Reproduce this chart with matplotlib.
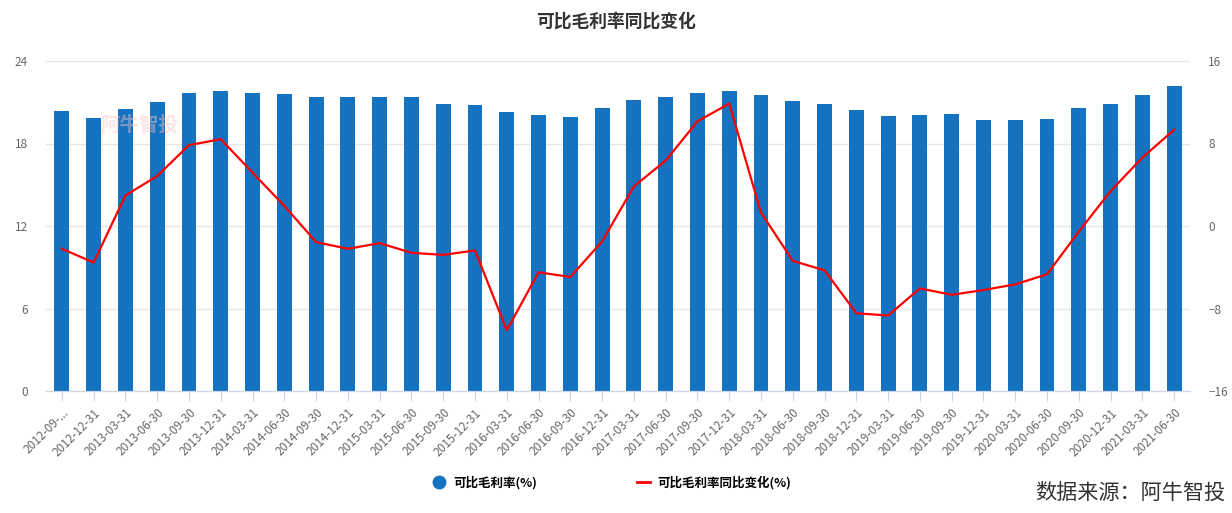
import matplotlib
matplotlib.use("Agg")
import matplotlib.pyplot as plt
from matplotlib.lines import Line2D

plt.rcParams['font.family'] = ['Noto Sans CJK SC', 'DejaVu Sans']

dates = ["2012-09-...", "2012-12-31", "2013-03-31", "2013-06-30", "2013-09-30", "2013-12-31",
         "2014-03-31", "2014-06-30", "2014-09-30", "2014-12-31", "2015-03-31", "2015-06-30",
         "2015-09-30", "2015-12-31", "2016-03-31", "2016-06-30", "2016-09-30", "2016-12-31",
         "2017-03-31", "2017-06-30", "2017-09-30", "2017-12-31", "2018-03-31", "2018-06-30",
         "2018-09-30", "2018-12-31", "2019-03-31", "2019-06-30", "2019-09-30", "2019-12-31",
         "2020-03-31", "2020-06-30", "2020-09-30", "2020-12-31", "2021-03-31", "2021-06-30"]

# 可比毛利率(%)
margin = [20.36, 19.85, 20.5, 21.0, 21.67, 21.82, 21.67, 21.6, 21.38, 21.38, 21.38, 21.38,
          20.87, 20.8, 20.29, 20.07, 19.93, 20.58, 21.16, 21.38, 21.67, 21.82, 21.53, 21.09,
          20.87, 20.44, 20.0, 20.07, 20.15, 19.71, 19.71, 19.78, 20.58, 20.87, 21.53, 22.18]

# 可比毛利率同比变化(%)
change = [-2.21, -3.54, 2.96, 4.85, 7.84, 8.42, 5.17, 1.95, -1.56, -2.21, -1.66, -2.6,
          -2.8, -2.37, -10.11, -4.49, -4.94, -1.5, 3.84, 6.34, 10.15, 11.87, 1.3, -3.38,
          -4.3, -8.46, -8.68, -6.05, -6.67, -6.21, -5.66, -4.68, -0.55, 3.38, 6.63, 9.33]

bar_color = "#1572c0"
line_color = "#ff0000"
grid_color = "#e6e6e6"
axis_color = "#ccd6eb"
text_color = "#666666"

fig = plt.figure(figsize=(12.32, 5.13), dpi=100)
ax = fig.add_axes([46 / 1232, 1 - 391 / 513, (1190 - 46) / 1232, (391 - 61) / 513])
ax2 = ax.twinx()

x = list(range(len(dates)))
ax.bar(x, margin, width=0.47, color=bar_color, zorder=2)
ax2.plot(x, change, color=line_color, linewidth=1.6, zorder=3)

ax.set_xlim(-0.5, len(dates) - 0.5)
ax.set_ylim(0, 24)
ax.set_yticks([0, 6, 12, 18, 24])
ax2.set_ylim(-16, 16)
ax2.set_yticks([-16, -8, 0, 8, 16])

ax.yaxis.grid(True, color=grid_color, linewidth=1, zorder=0)
ax.set_axisbelow(True)
for a in (ax, ax2):
    for s in ("top", "left", "right"):
        a.spines[s].set_visible(False)
    a.spines["bottom"].set_color(axis_color)
    a.tick_params(axis="y", length=0, labelsize=8.5, labelcolor=text_color)
ax.tick_params(axis="y", pad=13)
ax2.tick_params(axis="y", pad=13)

ax.set_xticks(x)
ax.set_xticklabels(dates, rotation=45, ha="right", rotation_mode="anchor",
                   fontsize=8.5, color=text_color)
ax.tick_params(axis="x", length=7, color=axis_color, pad=4)

fig.text(0.5, 1 - 22 / 513, "可比毛利率同比变化", ha="center", va="center",
         fontsize=12.8, fontweight="bold", color="#333333")

# watermark
fig.text(140 / 1232, 1 - 125 / 513, "阿牛智投", ha="center", va="center",
         fontsize=14, fontweight="bold", color="#f6c4c4", alpha=0.45)

handles = [Line2D([0], [0], marker="o", linestyle="none", markersize=9,
                  markerfacecolor=bar_color, markeredgecolor=bar_color),
           Line2D([0], [0], color=line_color, linewidth=2)]
fig.legend(handles, ["可比毛利率(%)", "可比毛利率同比变化(%)"],
           loc="center", bbox_to_anchor=(612 / 1232, 1 - 483 / 513), ncol=2,
           frameon=False, columnspacing=8, handlelength=1.0, handletextpad=0.6,
           prop={"size": 9, "weight": "bold"})

fig.text(1225 / 1232, 1 - 493 / 513, "数据来源：阿牛智投", ha="right", va="center",
         fontsize=15.2, color="#333333")

fig.savefig("out.png", dpi=100)
